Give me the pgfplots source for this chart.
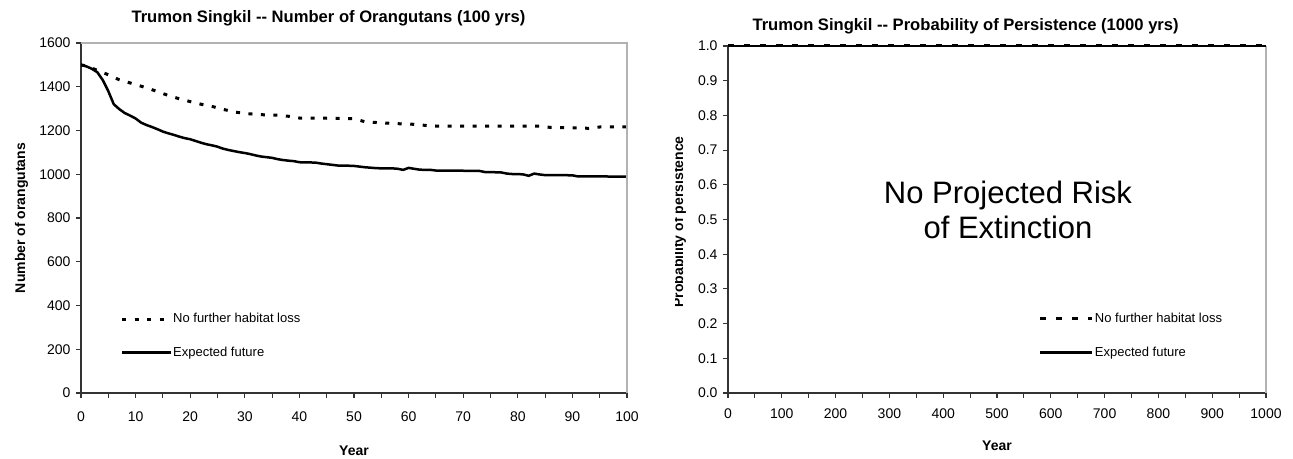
\documentclass[border=0pt]{standalone}
\usepackage{fontspec}
\setmainfont{Liberation Sans}
\usepackage{pgfplots}
\pgfplotsset{compat=1.18}

\pgfplotsset{
  myaxis/.style={
    scale only axis,
    axis x line*=bottom, axis y line*=left,
    axis line style={line width=1.2bp, black!80},
    tick align=outside,
    major tick length=5bp, minor tick length=5bp,
    tick style={line width=1.1bp, black!80},
    every tick label/.append style={font=\fontsize{14bp}{16bp}\selectfont},
    /pgf/number format/assume math mode=true,
    /pgf/number format/1000 sep={},
    legend cell align=left,
    legend style={draw=none, fill=none, inner sep=0pt, outer sep=0pt,
      font=\fontsize{13bp}{15bp}\selectfont,
      nodes={inner sep=0pt, outer sep=0pt, text height=10bp, text depth=3bp},
      row sep=20.7bp, cells={anchor=west}},
  }
}

\begin{document}
\begin{tikzpicture}
\useasboundingbox (0,0) rectangle (1293bp,459bp);

% ---------- left panel ----------
\begin{axis}[myaxis, name=left,
  at={(81bp,66bp)}, anchor=south west, width=546bp, height=350bp,
  xmin=0, xmax=100, ymin=0, ymax=1600,
  xtick={0,10,...,100}, minor x tick num=1,
  ytick={0,200,...,1600},
  xticklabel style={yshift=-10bp},
  yticklabel style={xshift=-2bp},
  xlabel={Year},
  xlabel style={font=\bfseries\fontsize{14bp}{16bp}\selectfont, at={(axis description cs:0.5,0)}, anchor=base, yshift=-62bp},
  ylabel={Number of orangutans},
  ylabel style={font=\bfseries\fontsize{14bp}{16bp}\selectfont, at={([xshift=-56bp]axis description cs:0,0.5)}, anchor=base},
  legend style={at={(axis description cs:0.0727,0.23)}, anchor=north west, column sep=0.5bp},
  legend image code/.code={\draw[#1] (0bp,0bp) -- (49bp,0bp);},
]
\addplot[line width=3bp, black, dash pattern=on 4bp off 8.5bp] coordinates {
(0,1500) (1,1495) (2,1485) (3,1475) (5,1455) (7,1432) (10,1410) (12,1395)
(14,1378) (16,1360) (18,1345) (20,1332) (22,1320) (24,1310) (26,1297)
(28,1285) (30,1278) (32,1274) (34,1271) (36,1270) (38,1265) (40,1257)
(45,1256) (50,1254) (52,1240) (55,1235) (58,1231) (60,1230) (62,1226)
(64,1221) (66,1220) (70,1220) (75,1220) (80,1220) (84,1220) (86,1214)
(90,1212) (93,1210) (95,1216) (100,1217)};
\addlegendentry{No further habitat loss}
\addplot[line width=2.5bp, black] coordinates {
(0,1500) (1,1493) (2,1482) (3,1466) (4,1430) (5,1380) (6,1320) (7,1298)
(8,1280) (9,1268) (10,1255) (11,1236) (12,1225) (13,1216) (14,1206)
(15,1195) (16,1187) (17,1180) (18,1172) (19,1165) (20,1160) (21,1152)
(22,1144) (23,1137) (24,1132) (25,1126) (26,1117) (27,1111) (28,1106)
(29,1101) (30,1097) (31,1092) (32,1086) (33,1081) (34,1078) (35,1075)
(36,1069) (37,1065) (38,1062) (39,1060) (40,1055) (41,1054) (42,1054)
(43,1053) (44,1049) (45,1046) (46,1043) (47,1040) (48,1039) (49,1039)
(50,1038) (51,1035) (52,1032) (53,1030) (54,1028) (55,1027) (56,1027)
(57,1027) (58,1025) (59,1020) (60,1029) (61,1025) (62,1021) (63,1020)
(64,1020) (65,1017) (66,1016) (67,1016) (70,1016) (73,1015) (74,1010)
(75,1010) (76,1009) (77,1008) (78,1003) (79,1001) (80,1001) (81,999)
(82,993) (83,1003) (84,999) (85,996) (88,996) (90,995) (91,990) (95,990) (100,989)};
\addlegendentry{Expected future}
\end{axis}
\draw[gray!60, line width=1.2bp] (left.north west) -- (left.north east) -- (left.south east);

% ---------- right panel ----------
\begin{axis}[myaxis, name=right, clip=false,
  at={(728bp,66bp)}, anchor=south west, width=538bp, height=347bp,
  xmin=0, xmax=1000, ymin=0, ymax=1,
  xtick={0,100,...,1000}, minor x tick num=1,
  ytick={0,0.1,0.2,0.3,0.4,0.5,0.6,0.7,0.8,0.9,1},
  yticklabel style={xshift=-2bp, /pgf/number format/fixed, /pgf/number format/fixed zerofill, /pgf/number format/precision=1},
  xticklabel style={yshift=-7bp},
  xlabel={Year},
  xlabel style={font=\bfseries\fontsize{14bp}{16bp}\selectfont, at={(axis description cs:0.5,0)}, anchor=base, yshift=-57bp},
  legend style={at={(axis description cs:0.577,0.232)}, anchor=north west, column sep=1bp},
  legend image code/.code={\draw[#1] (0bp,0bp) -- (52.5bp,0bp);},
]
\draw[gray!60, line width=1.2bp] (rel axis cs:1,1) -- (rel axis cs:1,0);
\addplot[line width=3bp, black, dash pattern=on 6bp off 10bp] coordinates {
(0,1) (100,1) (200,1) (300,1) (400,1) (500,1) (600,1) (700,1) (800,1) (900,1) (1000,1)};
\addlegendentry{No further habitat loss}
\addplot[line width=2.5bp, black] coordinates {
(0,1) (100,1) (200,1) (300,1) (400,1) (500,1) (600,1) (700,1) (800,1) (900,1) (1000,1)};
\addlegendentry{Expected future}
\end{axis}

% right y label (clipped at its top as in the reference)
\begin{scope}
\clip (675.5bp,0bp) rectangle (1293bp,459bp);
\node[rotate=90, anchor=base, font=\bfseries\fontsize{14bp}{16bp}\selectfont] at (683bp,237bp) {Probability of persistence};
\end{scope}

% annotation
\node[anchor=base, font=\fontsize{31bp}{35bp}\selectfont] at (1008bp,255bp) {No Projected Risk};
\node[anchor=base, font=\fontsize{31bp}{35bp}\selectfont] at (1008bp,220bp) {of Extinction};

% titles
\node[anchor=base west, font=\bfseries\fontsize{16.6bp}{19bp}\selectfont] at (128bp,436bp) {Trumon Singkil -{}- Number of Orangutans (100 yrs)};
\node[anchor=base west, font=\bfseries\fontsize{16.6bp}{19bp}\selectfont] at (749bp,428bp) {Trumon Singkil -{}- Probability of Persistence (1000 yrs)};
\end{tikzpicture}
\end{document}
